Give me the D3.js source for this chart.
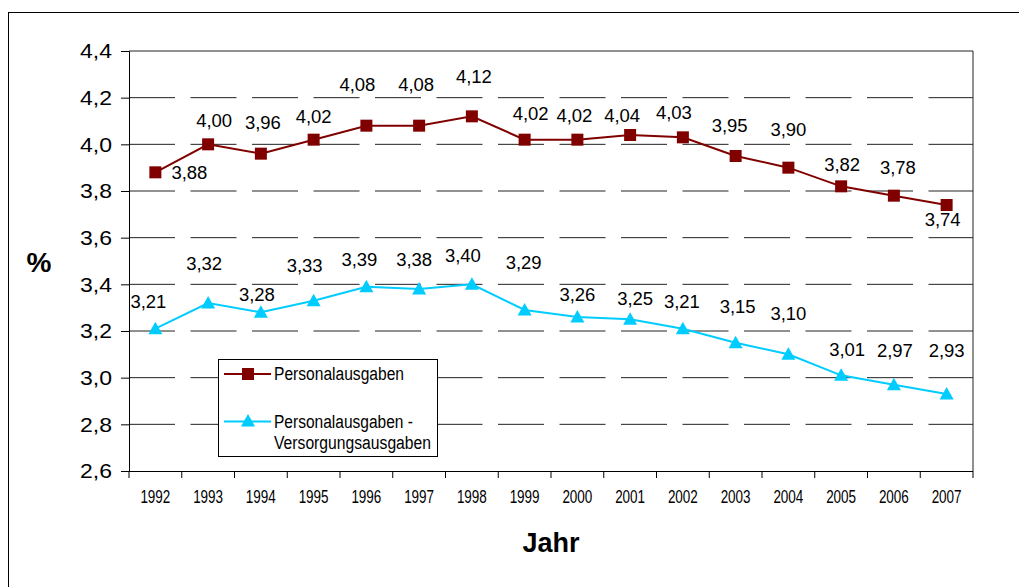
<!DOCTYPE html>
<html>
<head>
<meta charset="utf-8">
<script src="https://cdn.jsdelivr.net/npm/d3@7"></script>
<style>
  html, body { margin: 0; padding: 0; background: #fff; }
  svg { display: block; font-family: "Liberation Sans", Arial, sans-serif; }
</style>
</head>
<body>
<svg id="chart" width="1019" height="587"></svg>
<script>
// ---- data ----
const years = ["1992","1993","1994","1995","1996","1997","1998","1999","2000","2001","2002","2003","2004","2005","2006","2007"];
const personal = [3.88,4.00,3.96,4.02,4.08,4.08,4.12,4.02,4.02,4.04,4.03,3.95,3.90,3.82,3.78,3.74];
const personalMinusVersorgung = [3.21,3.32,3.28,3.33,3.39,3.38,3.40,3.29,3.26,3.25,3.21,3.15,3.10,3.01,2.97,2.93];
const yTicks = [2.6,2.8,3.0,3.2,3.4,3.6,3.8,4.0,4.2,4.4];
const seriesNames = ["Personalausgaben", "Personalausgaben -", "Versorgungsausgaben"];

// label offsets (px) relative to each point, as placed in the original
const redDx = [34,6,2,0,-9,-3,2,6,-3,-8,-9,-6,0,1,4,-4];
const redDy = [1,-23,-31,-23,-41,-41,-39,-26,-24,-19,-24,-30,-38,-21,-28,15];
const cyanDx = [-7,-4,-4,-9,-7,-5,-9,-1,0,5,-1,2,0,6,1,0];
const cyanDy = [-27,-39,-17,-35,-27,-29,-28,-47,-22,-20,-27,-36,-40,-25,-34,-43];

const RED = "#800000", CYAN = "#00CCFF";
const locale = d3.formatLocale({decimal: ",", thousands: ".", grouping: [3], currency: ["", "€"]});
const f1 = locale.format(".1f"), f2 = locale.format(".2f");

const svg = d3.select("#chart");
const L = 129, R = 973, T = 51, B = 471;

// outer frame
svg.append("rect").attr("x", 8.5).attr("y", 12.5).attr("width", 1030).attr("height", 600)
  .attr("fill", "#fff").attr("stroke", "#000").attr("stroke-width", 1);

const x = d3.scaleBand().domain(years).range([L, R]).padding(0);
const y = d3.scaleLinear().domain([2.6, 4.4]).range([B, T]);
const cx = d => x(d) + x.bandwidth() / 2;

// gridlines
svg.append("g").selectAll("line").data(yTicks.filter(t => t > 2.6 && t < 4.4)).join("line")
  .attr("x1", L).attr("x2", R).attr("y1", d => y(d)).attr("y2", d => y(d))
  .attr("stroke", "#222").attr("stroke-width", 1).attr("stroke-dasharray", "46,15.5");

// plot border top/right
svg.append("path").attr("d", `M${L},${T}H${R}V${B}`).attr("fill", "none").attr("stroke", "#222");

// y axis
const yAxis = svg.append("g").attr("transform", `translate(${L},0)`)
  .call(d3.axisLeft(y).tickValues(yTicks).tickSize(8).tickPadding(9).tickFormat(f1));
yAxis.select(".domain").attr("stroke", "#000");
yAxis.selectAll(".tick line").attr("stroke", "#000");
yAxis.selectAll(".tick text").attr("font-size", 21).attr("fill", "#000")
  .attr("font-family", "Liberation Sans, Arial, sans-serif")
  .attr("textLength", 32).attr("lengthAdjust", "spacingAndGlyphs");

// x axis
const xAxis = svg.append("g").attr("transform", `translate(0,${B})`)
  .call(d3.axisBottom(x).tickSize(0).tickPadding(19));
xAxis.select(".domain").attr("stroke", "#000").attr("d", `M${L},0.5H${R}`);
xAxis.selectAll(".tick text").attr("font-size", 18).attr("fill", "#000")
  .attr("font-family", "Liberation Sans, Arial, sans-serif")
  .attr("textLength", 30).attr("lengthAdjust", "spacingAndGlyphs");
xAxis.append("g").selectAll("line").data(years.concat(["end"])).join("line")
  .attr("x1", d => d === "end" ? R : x(d)).attr("x2", d => d === "end" ? R : x(d))
  .attr("y1", 0).attr("y2", 7).attr("stroke", "#000");

// lines
const lineGen = d3.line().x((d, i) => cx(years[i])).y(d => y(d));
svg.append("path").datum(personal).attr("d", lineGen).attr("fill", "none").attr("stroke", RED).attr("stroke-width", 2);
svg.append("path").datum(personalMinusVersorgung).attr("d", lineGen).attr("fill", "none").attr("stroke", CYAN).attr("stroke-width", 2);

// markers
const sq = 12;
svg.append("g").selectAll("rect").data(personal).join("rect")
  .attr("x", (d, i) => cx(years[i]) - sq / 2).attr("y", d => y(d) - sq / 2)
  .attr("width", sq).attr("height", sq).attr("fill", RED);
const tri = (px, py) => `M${px},${py - 7}L${px + 7},${py + 5.5}L${px - 7},${py + 5.5}Z`;
svg.append("g").selectAll("path").data(personalMinusVersorgung).join("path")
  .attr("d", (d, i) => tri(cx(years[i]), y(d))).attr("fill", CYAN);

// data labels
function labels(data, dx, dy) {
  svg.append("g").selectAll("text").data(data).join("text")
    .attr("x", (d, i) => cx(years[i]) + dx[i]).attr("y", (d, i) => y(d) + dy[i])
    .attr("text-anchor", "middle").attr("dominant-baseline", "central")
    .attr("font-size", 18).attr("fill", "#000")
    .attr("textLength", 36).attr("lengthAdjust", "spacingAndGlyphs")
    .text(d => f2(d));
}
labels(personal, redDx, redDy);
labels(personalMinusVersorgung, cyanDx, cyanDy);

// legend
const lg = svg.append("g");
lg.append("rect").attr("x", 218.5).attr("y", 359.5).attr("width", 219).attr("height", 97)
  .attr("fill", "#fff").attr("stroke", "#000");
lg.append("line").attr("x1", 224).attr("x2", 271).attr("y1", 374).attr("y2", 374).attr("stroke", RED).attr("stroke-width", 2);
lg.append("rect").attr("x", 248 - sq / 2).attr("y", 374 - sq / 2).attr("width", sq).attr("height", sq).attr("fill", RED);
lg.append("line").attr("x1", 224).attr("x2", 271).attr("y1", 421.5).attr("y2", 421.5).attr("stroke", CYAN).attr("stroke-width", 2);
lg.append("path").attr("d", tri(248, 421)).attr("fill", CYAN);
const legTexts = [[seriesNames[0], 374, 130], [seriesNames[1], 421.5, 139], [seriesNames[2], 442.5, 157]];
lg.selectAll("text").data(legTexts).join("text")
  .attr("x", 274).attr("y", d => d[1]).attr("dominant-baseline", "central")
  .attr("font-size", 18).attr("fill", "#000")
  .attr("textLength", d => d[2]).attr("lengthAdjust", "spacingAndGlyphs")
  .text(d => d[0]);

// axis titles
svg.append("text").attr("x", 39).attr("y", 262).attr("text-anchor", "middle").attr("dominant-baseline", "central")
  .attr("font-size", 28).attr("font-weight", "bold").attr("fill", "#000").text("%");
svg.append("text").attr("x", 551).attr("y", 552).attr("text-anchor", "middle")
  .attr("font-size", 27).attr("font-weight", "bold").attr("fill", "#000").text("Jahr");
</script>
</body>
</html>
